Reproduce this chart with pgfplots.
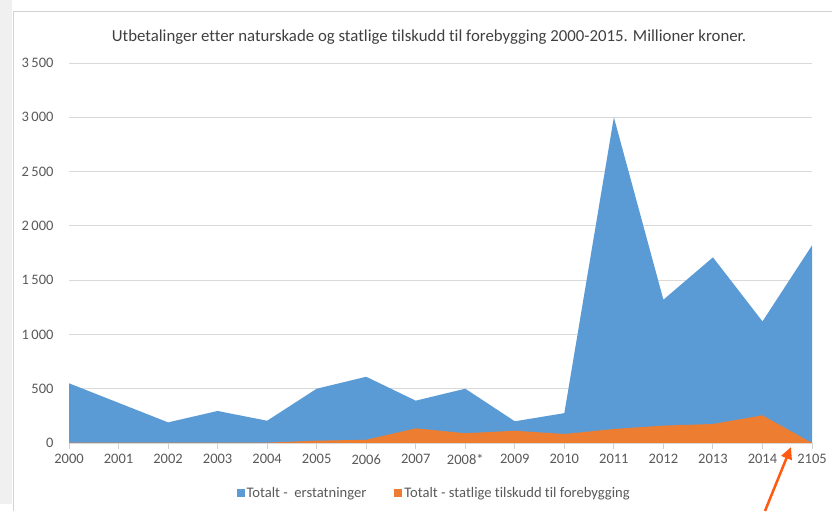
\documentclass[border=0pt]{standalone}
\usepackage{pgfplots}
\pgfplotsset{compat=1.18}
\usepackage{fontspec}
\setmainfont{Carlito}[Ligatures=CommonOff]
\usetikzlibrary{arrows.meta}
\definecolor{cblue}{HTML}{5B9BD5}
\definecolor{corange}{HTML}{ED7D31}
\definecolor{ctext}{HTML}{595959}
\definecolor{ctitle}{HTML}{404040}
\definecolor{cgrid}{HTML}{D9D9D9}
\definecolor{caxis}{HTML}{D0D0D0}
\definecolor{carrow}{HTML}{FF5A0F}
\pgfplotstableread{
x y
0 550
1 370
2 190
3 295
4 205
5 500
6 610
7 390
8 500
9 200
10 275
11 3000
12 1320
13 1710
14 1120
15 1820
}\erstatninger
\pgfplotstableread{
x y
0 4
1 4
2 4
3 4
4 4
5 21
6 30
7 135
8 90
9 113
10 83
11 129
12 160
13 175
14 255
15 0
}\tilskudd
\begin{document}
\begin{tikzpicture}[x=1pt,y=1pt]
\path[use as bounding box] (0,0) rectangle (832,511);
\fill[gray!12] (0,7) rectangle (12,511);
\draw[gray!35, line width=1pt] (13.5,0) -- (13.5,499) -- (832,499);
\node[text=ctitle, font=\fontsize{16.8}{19}\selectfont] at (429,474) {Utbetalinger etter naturskade og statlige tilskudd til forebygging 2000-2015. Millioner kroner.};
\begin{axis}[
 at={(69pt,68pt)}, anchor=south west, scale only axis,
 width=743pt, height=380pt,
 xmin=0, xmax=15, ymin=0, ymax=3500,
 axis x line*=bottom, axis y line*=left,
 y axis line style={draw=none},
 x axis line style={color=caxis, line width=1pt},
 ytick={0,500,...,3500},
 ytick style={draw=none},
 xtick={0,...,15},
 xticklabels={2000,2001,2002,2003,2004,2005,2006,2007,2008*,2009,2010,2011,2012,2013,2014,2105},
 xtick style={color=caxis, line width=1pt},
 tick align=outside, major tick length=6pt,
 ymajorgrids, grid style={cgrid, line width=0.8pt},
 /pgf/number format/assume math mode=true,
 /pgf/number format/1000 sep={\,},
 tick label style={text=ctext, font=\fontsize{14.5}{16}\selectfont},
 yticklabel style={xshift=-6pt},
 xticklabel style={yshift=-2pt},
 legend style={at={(0.4915,-0.1316)}, anchor=center, draw=none, fill=none,
   legend columns=2, font=\fontsize{14.6}{16}\selectfont, text=ctext,
   /tikz/every even column/.append style={column sep=26pt},
   inner sep=0pt},
 legend image code/.code={\fill[#1] (0pt,-4pt) rectangle (8pt,4pt);},
 legend cell align=left,
]
\addplot[draw=none, fill=cblue] table[x=x,y=y] {\erstatninger} \closedcycle;
\addlegendentry{Totalt -~ erstatninger}
\addplot[draw=none, fill=corange] table[x=x,y=y] {\tilskudd} \closedcycle;
\addlegendentry{Totalt - statlige tilskudd til forebygging}
\end{axis}
\draw[carrow, line width=2.5pt, -{Triangle[length=12pt,width=11pt]}] (765,0) -- (791,64);
\end{tikzpicture}
\end{document}
